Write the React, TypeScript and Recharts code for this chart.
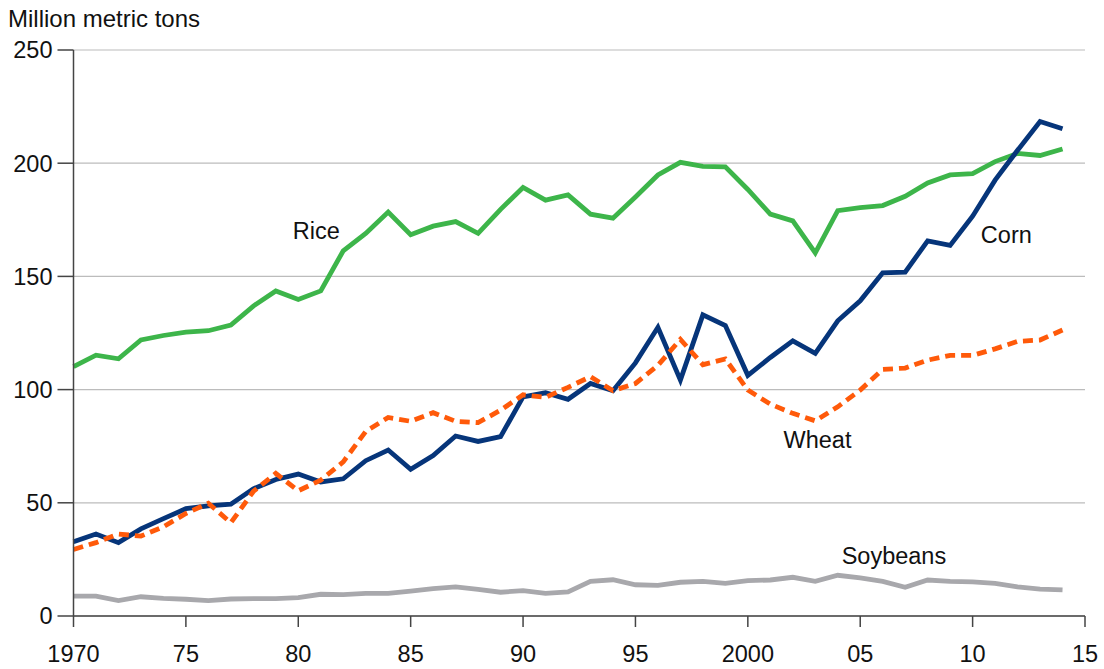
import {
  CartesianGrid,
  Line,
  LineChart,
  ReferenceDot,
  XAxis,
  YAxis,
} from "recharts";

const years = Array.from({ length: 45 }, (_, i) => 1970 + i);

const rice = [
  110.1, 115.2, 113.6, 121.9, 123.9, 125.4, 126.0, 128.5, 136.9, 143.6,
  139.8, 143.6, 161.3, 169.0, 178.4, 168.4, 172.2, 174.2, 169.0, 179.6,
  189.3, 183.7, 186.0, 177.5, 175.7, 185.1, 194.8, 200.4, 198.6, 198.4,
  188.4, 177.5, 174.5, 160.4, 179.0, 180.4, 181.3, 185.4, 191.3, 194.8,
  195.4, 200.7, 204.3, 203.4, 206.3,
];

const corn = [
  32.8, 36.2, 32.4, 38.5, 43.0, 47.4, 48.6, 49.4, 56.2, 60.3,
  62.7, 59.2, 60.6, 68.6, 73.3, 64.8, 70.9, 79.5, 77.1, 79.2,
  96.8, 98.6, 95.7, 102.7, 99.5, 111.8, 127.5, 104.2, 133.0, 128.3,
  106.3, 114.2, 121.5, 116.0, 130.4, 139.2, 151.6, 151.9, 165.7, 163.7,
  176.6, 192.5, 205.7, 218.4, 215.2,
];

const wheat = [
  29.4, 32.4, 36.2, 35.3, 39.4, 45.3, 49.8, 41.2, 55.0, 63.0,
  55.3, 60.0, 68.1, 81.5, 87.7, 86.0, 89.8, 86.0, 85.4, 90.9,
  97.7, 96.6, 101.0, 105.7, 99.5, 102.7, 110.7, 122.2, 111.0, 113.5,
  99.8, 93.6, 89.5, 86.2, 92.4, 99.8, 108.9, 109.5, 113.0, 115.1,
  115.1, 118.0, 121.3, 121.9, 126.3,
];

const soybeans = [
  8.8, 8.8, 6.8, 8.5, 7.8, 7.4, 6.8, 7.5, 7.7, 7.7,
  8.1, 9.6, 9.4, 10.0, 10.0, 11.0, 12.1, 12.9, 11.8, 10.5,
  11.2, 10.0, 10.6, 15.3, 16.0, 13.8, 13.5, 14.9, 15.3, 14.4,
  15.6, 15.9, 17.1, 15.3, 18.0, 16.8, 15.3, 12.7, 15.9, 15.3,
  15.1, 14.4, 12.9, 11.9, 11.5,
];

const xTicks = [1970, 1975, 1980, 1985, 1990, 1995, 2000, 2005, 2010, 2015];
const yTicks = [0, 50, 100, 150, 200, 250];

const labels = [
  { text: "Rice", year: 1980.8, value: 170 },
  { text: "Corn", year: 2011.5, value: 168.3 },
  { text: "Wheat", year: 2003.1, value: 77.7 },
  { text: "Soybeans", year: 2006.5, value: 26.5 },
];

const data = years.map((year, i) => ({
  year,
  rice: rice[i],
  corn: corn[i],
  wheat: wheat[i],
  soybeans: soybeans[i],
}));

const font = "'Liberation Sans', Arial, Helvetica, sans-serif";
const fontSize = 23.5;

const formatYear = (v: number) =>
  v === 1970 || v === 2000 ? String(v) : String(v).slice(2);

export default function App() {
  return (
    <div
      style={{
        position: "absolute",
        left: 0,
        top: 0,
        width: 1104,
        height: 669,
        background: "#fff",
        fontFamily: font,
      }}
    >
      <div
        style={{
          position: "absolute",
          left: 8,
          top: 8,
          fontSize: 24,
          lineHeight: "22px",
          color: "#111",
        }}
      >
        Million metric tons
      </div>
      <LineChart
        width={1104}
        height={669}
        data={data}
        margin={{ top: 50, right: 19, left: 0, bottom: 0 }}
      >
        <CartesianGrid
          horizontal
          vertical={false}
          stroke="#bcbcbc"
          strokeWidth={1.2}
        />
        <XAxis
          dataKey="year"
          type="number"
          domain={[1970, 2015]}
          ticks={xTicks}
          tickFormatter={formatYear}
          height={53}
          tickSize={11}
          tickMargin={18}
          stroke="#444"
          strokeWidth={1.5}
          tick={{ fill: "#111", fontSize, fontFamily: font }}
          interval={0}
        />
        <YAxis
          type="number"
          domain={[0, 250]}
          ticks={yTicks}
          width={73.5}
          tickSize={16}
          tickMargin={5}
          stroke="#444"
          strokeWidth={1.5}
          tick={{ fill: "#111", fontSize, fontFamily: font }}
          interval={0}
        />
        <Line
          type="linear"
          dataKey="soybeans"
          stroke="#a8a8ac"
          strokeWidth={4.8}
          dot={false}
          isAnimationActive={false}
        />
        <Line
          type="linear"
          dataKey="rice"
          stroke="#3db54a"
          strokeWidth={4.8}
          dot={false}
          isAnimationActive={false}
        />
        <Line
          type="linear"
          dataKey="corn"
          stroke="#06357a"
          strokeWidth={4.8}
          dot={false}
          isAnimationActive={false}
        />
        <Line
          type="linear"
          dataKey="wheat"
          stroke="#ff5a0a"
          strokeWidth={4.8}
          strokeDasharray="10 6"
          dot={false}
          isAnimationActive={false}
        />
        {labels.map((l) => (
          <ReferenceDot
            key={l.text}
            x={l.year}
            y={l.value}
            r={0}
            stroke="none"
            fill="none"
            label={{
              value: l.text,
              position: "center",
              fill: "#111",
              fontSize,
              fontFamily: font,
            }}
          />
        ))}
      </LineChart>
    </div>
  );
}
